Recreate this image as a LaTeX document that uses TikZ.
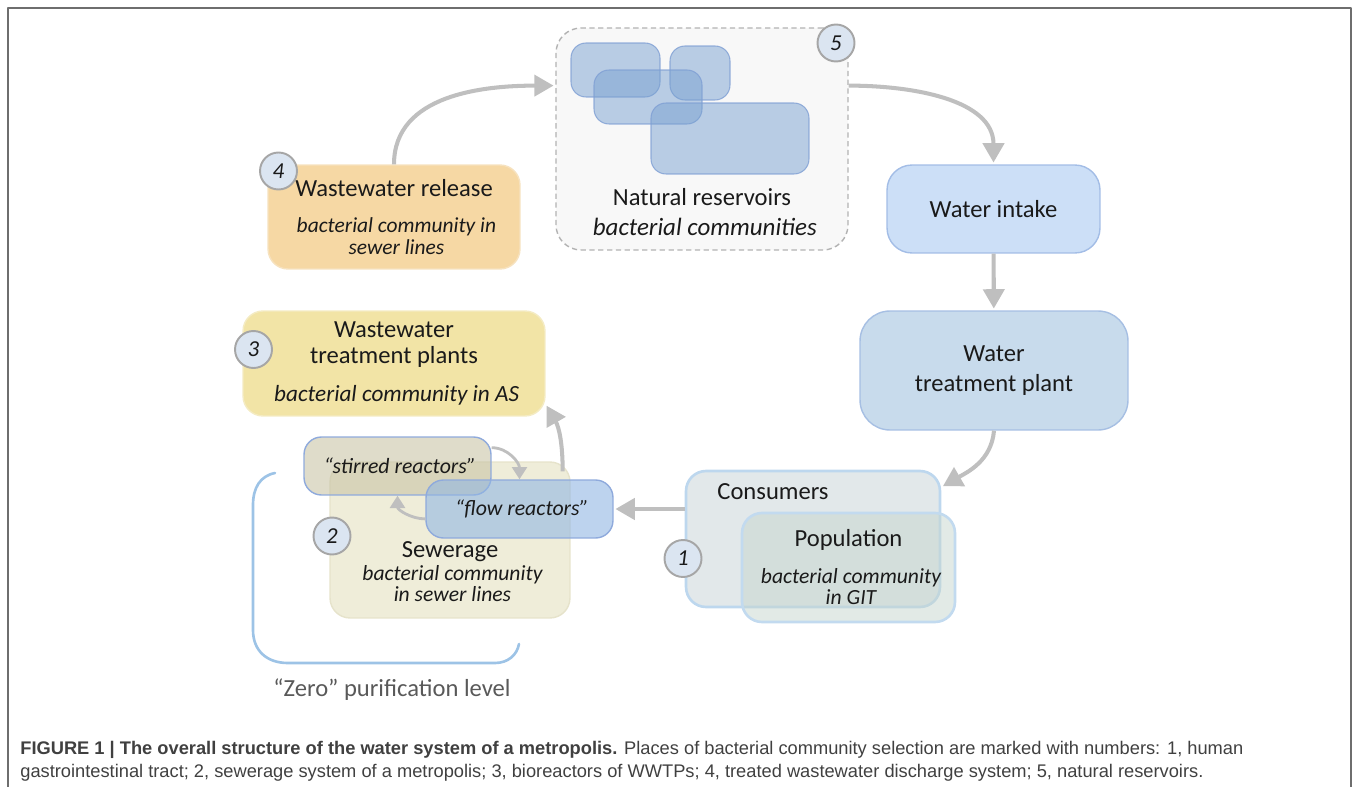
\documentclass[tikz,border=0pt]{standalone}
\usepackage{fontspec}
\setmainfont{Carlito}
\newfontfamily\capfont{Liberation Sans}
\usetikzlibrary{arrows.meta}

\definecolor{txt}{HTML}{1A1A1A}
\definecolor{resfill}{HTML}{F8F8F8}
\definecolor{resline}{HTML}{B2B2B2}
\definecolor{blobfill}{HTML}{79A1D1}
\definecolor{blobline}{HTML}{7F9FD4}
\definecolor{wifill}{HTML}{CCDFF7}
\definecolor{wiline}{HTML}{A3BDE6}
\definecolor{wtpfill}{HTML}{C8DBEC}
\definecolor{wtpline}{HTML}{A6BFE3}
\definecolor{confill}{HTML}{E2E8EA}
\definecolor{conline}{HTML}{BDD7EE}
\definecolor{popfill}{HTML}{C6D6CE}
\definecolor{popline}{HTML}{C2DAEF}
\definecolor{sewfill}{HTML}{EFEDD9}
\definecolor{sewline}{HTML}{E6E3CB}
\definecolor{stirfill}{HTML}{C9C4A6}
\definecolor{reacline}{HTML}{8FAADC}
\definecolor{flowfill}{HTML}{91B6E3}
\definecolor{wwtpfill}{HTML}{F2E4A6}
\definecolor{wwtpline}{HTML}{F4EBC3}
\definecolor{relfill}{HTML}{F6D8A4}
\definecolor{relline}{HTML}{F6E2BF}
\definecolor{numfill}{HTML}{DBE5F1}
\definecolor{numline}{HTML}{A6A6A6}
\definecolor{arrgray}{HTML}{BFBFBF}
\definecolor{brackblue}{HTML}{9DC3E6}
\definecolor{zerogray}{HTML}{595959}
\definecolor{capgray}{HTML}{404040}
\definecolor{framegray}{HTML}{6E6E6E}

\begin{document}
\begin{tikzpicture}[x=0.02cm,y=-0.02cm,line join=round,
    box/.style={draw,rounded corners=0.4cm,line width=0.8pt,align=center,text=txt,
      font=\fontsize{14}{17}\selectfont},
    blob/.style={draw=blobline,draw opacity=0.8,fill=blobfill,fill opacity=0.5,
      rounded corners=0.3cm,line width=0.6pt,inner sep=0pt},
    num/.style={circle,draw=numline,fill=numfill,line width=1.1pt,minimum size=0.74cm,
      inner sep=0pt,text=txt,font=\fontsize{13}{13}\selectfont\itshape},
    flow/.style={draw=arrgray,line width=2.3pt,-{Triangle[length=11pt,width=12pt]},shorten >=1pt},
    minor/.style={draw=arrgray,line width=1.6pt,-{Triangle[length=7pt,width=8.5pt]}},
    lbl/.style={align=center,text=txt,font=\fontsize{14}{17}\selectfont}]
  \def\it#1{\fontsize{#1}{17}\selectfont\itshape}
  \useasboundingbox (0,0) rectangle (1358,787);
  \draw[framegray,line width=0.9pt] (8,800) |- (1351,8) -- (1351,800);

  % natural reservoirs
  \node[box,draw=resline,fill=resfill,dash pattern=on 3pt off 2pt,rounded corners=0.5cm,
    minimum width=5.84cm,minimum height=4.44cm] (res) at (702,139) {};
  \node[blob,minimum width=1.78cm,minimum height=1.08cm] (b1) at (615.5,70) {};
  \node[blob,minimum width=1.2cm,minimum height=1.08cm] (b2) at (700,73) {};
  \node[blob,minimum width=2.16cm,minimum height=1.08cm] (b3) at (648,97) {};
  \node[blob,minimum width=3.16cm,minimum height=1.42cm] (b4) at (730,138.5) {};
  \node[lbl] (reslbl) at (702,212) {Natural reservoirs\\{\it{14.2} bacterial communities}};
  \node[num] (n5) at (836,43) {5};

  % water supply
  \node[box,draw=wiline,fill=wifill,rounded corners=0.5cm,minimum width=4.26cm,minimum height=1.76cm]
    (wi) at (993.5,209) {Water intake};
  \node[box,draw=wtpline,fill=wtpfill,rounded corners=0.6cm,minimum width=5.36cm,minimum height=2.38cm]
    (wtp) at (994,370.5) {Water\\treatment plant};

  % consumers
  \node[box,draw=conline,fill=confill,line width=1.5pt,minimum width=5.08cm,minimum height=2.72cm]
    (con) at (813,539) {};
  \node[lbl] (conlbl) at (773,492) {Consumers};
  \node[box,draw=popline,fill=popfill,fill opacity=0.5,text opacity=1,line width=1.5pt,
    minimum width=4.26cm,minimum height=2.18cm] (pop) at (848.5,567.5)
    {Population\\[4pt]{\it{12.3} bacterial community}\\[-5pt]{\it{12.3} in GIT}};
  \node[num] (n1) at (683,558.5) {1};

  % sewerage
  \node[box,draw=sewline,fill=sewfill,minimum width=4.8cm,minimum height=3.12cm] (sew) at (450,540) {};
  \node[lbl] (sewlbl) at (450,572)
    {Sewerage\\[-4pt]{\it{12.3} bacterial community}\\[-5pt]{\it{12.3} in sewer lines}};
  \node[box,draw=reacline,fill=stirfill,fill opacity=0.6,text opacity=1,rounded corners=0.35cm,
    minimum width=3.74cm,minimum height=1.16cm] (stir) at (397.5,466) {\it{12.4} “stirred reactors”};
  \node[box,draw=reacline,fill=flowfill,fill opacity=0.6,text opacity=1,rounded corners=0.35cm,
    minimum width=3.74cm,minimum height=1.16cm] (flow) at (519.5,509) {\it{12.4} “flow reactors”};
  \node[num] (n2) at (332,536) {2};

  % wastewater
  \node[box,draw=wwtpline,fill=wwtpfill,minimum width=6.04cm,minimum height=2.1cm] (wwtp) at (394,363.5)
    {Wastewater\\[-2.3pt]treatment plants\\[5pt]{\it{13.2} bacterial community in AS}};
  \node[num] (n3) at (253.5,349.5) {3};
  \node[box,draw=relline,fill=relfill,minimum width=5.04cm,minimum height=2.08cm] (rel) at (394,217)
    {Wastewater release\\[3.5pt]{\it{12.2} bacterial community in}\\[-4.5pt]{\it{12.2} sewer lines}};
  \node[num] (n4) at (278.5,171) {4};

  % flows
  \draw[flow] (rel.north) to[out=90,in=180] (res.160);
  \draw[flow] (res.20) to[out=0,in=90] (wi.north);
  \draw[flow] (wi) -- (wtp);
  \draw[flow] (wtp.south) to[out=-95,in=30] (con.22);
  \draw[flow] (flow.east -| con.west) -- (flow.east);
  \draw[flow] ([xshift=-0.16cm,yshift=-0.2cm]sew.north east) to[out=90,in=-60] (wwtp.-15);
  \draw[minor] (stir.11) to[out=0,in=90] (flow.north);
  \draw[minor] (flow.186) to[out=180,in=-90] (stir.south);

  % zero level
  \draw[brackblue,line width=1.5pt,line cap=round] (275,473) .. controls (260,476) and (253,488) .. (253,505)
    -- (253,630) .. controls (253,650) and (266,663) .. (288,663) -- (495,663)
    .. controls (508,663) and (517,655) .. (519,644);
  \node[text=zerogray,font=\fontsize{14}{17}\selectfont] (zero) at (392,690) {“Zero” purification level};

  \node[anchor=north west,align=left,inner sep=0pt,text=capgray,font=\capfont\fontsize{10.4}{13}\selectfont]
    (cap) at (20,741) {\textbf{FIGURE 1 | The overall structure of the water system of a metropolis.} Places of bacterial community selection are marked with numbers: 1, human\\
    gastrointestinal tract; 2, sewerage system of a metropolis; 3, bioreactors of WWTPs; 4, treated wastewater discharge system; 5, natural reservoirs.};
\end{tikzpicture}
\end{document}
